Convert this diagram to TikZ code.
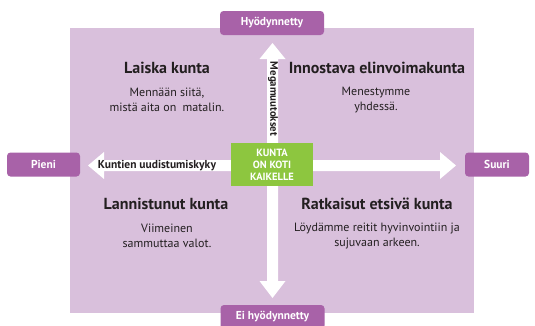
\documentclass[tikz,border=0pt]{standalone}
\usepackage{fontspec}
\setmainfont{PT Sans}
\usetikzlibrary{calc}
\definecolor{bgpurple}{HTML}{D9C0DC}
\definecolor{tagpurple}{HTML}{A862A8}
\definecolor{kgreen}{HTML}{8DC63F}
\definecolor{ink}{HTML}{231F20}
\begin{document}
\begin{tikzpicture}[x=1pt,y=-1pt,
  tag/.style={fill=tagpurple, rounded corners=3.5pt, text=white, font=\fontsize{11.5}{13}\selectfont\bfseries, minimum height=24pt, inner sep=0pt},
  title/.style={text=ink, font=\fontsize{16}{18}\selectfont\bfseries, inner sep=0pt},
  body/.style={text=ink, font=\fontsize{12}{14.5}\selectfont, align=center, inner sep=0pt},
  axis/.style={text=ink, font=\fontsize{11.5}{13}\selectfont\bfseries, inner sep=0pt},
  blockarrow/.style={fill=white, draw=none}]
\useasboundingbox (0,0) rectangle (535,325);
\fill[bgpurple] (70,28) rectangle (474,313);
% block arrows
\coordinate (L) at (88,165.5);
\coordinate (R) at (456,165.5);
\coordinate (T) at (272.5,43);
\coordinate (B) at (272.5,298);
\fill[blockarrow] (L) -- ++(16,-13.5) -- ++(0,8) -- ($(R)+(-16,-5.5)$) -- ++(0,-8) -- (R) -- ++(-16,13.5) -- ++(0,-8) -- ($(L)+(16,5.5)$) -- ++(0,8) -- cycle;
\fill[blockarrow] (T) -- ++(13,16) -- ++(-7.5,0) -- ($(B)+(5.5,-17)$) -- ++(7.5,0) -- (B) -- ++(-13,-17) -- ++(7.5,0) -- ($(T)+(-5.5,16)$) -- ++(-7.5,0) -- cycle;
% tags
\node[tag, minimum width=104pt] (hyo) at (272,23) {Hyödynnetty};
\node[tag, minimum width=104pt] (ei) at (272.5,317) {Ei hyödynnetty};
\node[tag, minimum width=73pt] (pieni) at (43.5,164.5) {Pieni};
\node[tag, minimum width=64pt] (suuri) at (497,164.5) {Suuri};
% centre
\node[fill=kgreen, minimum width=82pt, minimum height=43pt, text=white, align=center,
  font=\fontsize{10.5}{12}\selectfont\bfseries, inner sep=0pt] (koti) at (272,164.5) {KUNTA\\ON KOTI\\KAIKELLE};
\node[axis, rotate=-90, font=\fontsize{10.8}{13}\selectfont\bfseries] (mega) at (273,99) {Megamuutokset};
\node[axis] (kyky) at (157,165.5) {Kuntien uudistumiskyky};
% quadrants
\node[title] (laiska) at (167,68) {Laiska kunta};
\node[body] (laiskat) at (167,100) {Mennään siitä,\\mistä aita on\ \ matalin.};
\node[title] (inno) at (377,68) {Innostava elinvoimakunta};
\node[body] (innot) at (376,100) {Menestymme\\yhdessä.};
\node[title] (lann) at (166,204) {Lannistunut kunta};
\node[body] (lannt) at (167,236) {Viimeinen\\sammuttaa valot.};
\node[title] (ratk) at (377,204) {Ratkaisut etsivä kunta};
\node[body] (ratkt) at (377,236) {Löydämme reitit hyvinvointiin ja\\sujuvaan arkeen.};
\end{tikzpicture}
\end{document}
